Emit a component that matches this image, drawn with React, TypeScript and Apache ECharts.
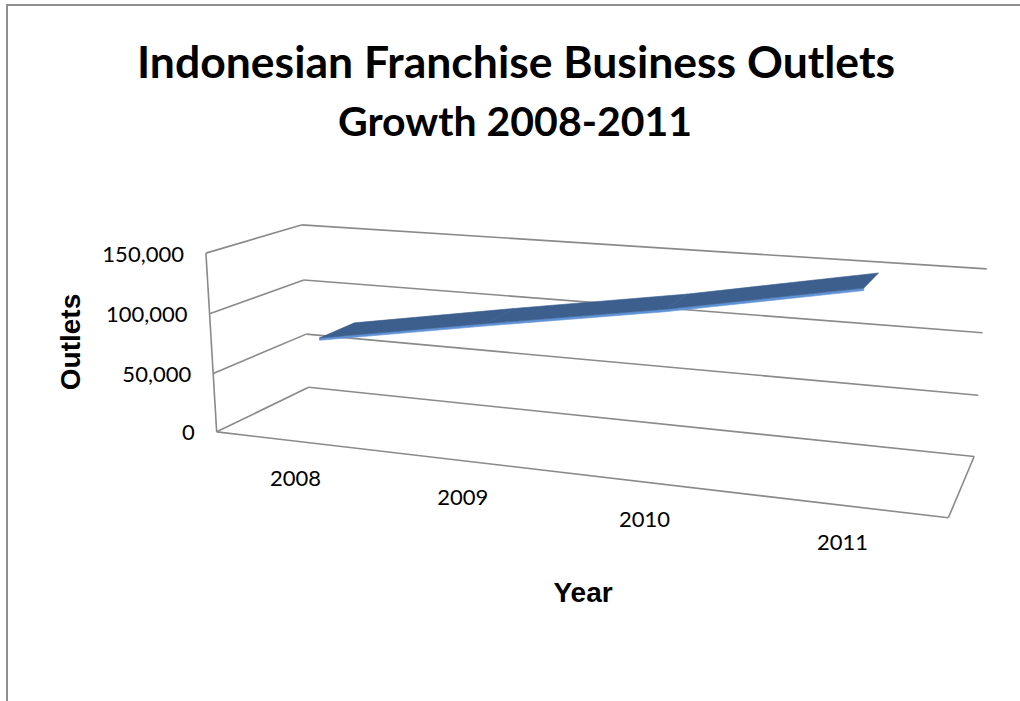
import React, { useEffect, useRef } from "react";
import * as echarts from "echarts";

// ---- data ----
const years = ["2008", "2009", "2010", "2011"];
const outlets = [76000, 100000, 123000, 150000];
const yTicks = [0, 50000, 100000, 150000];
const yMax = 150000;
const titleLines = ["Indonesian Franchise Business Outlets", "Growth 2008-2011"];
const yAxisName = "Outlets";
const xAxisName = "Year";

// ---- 3D box layout (u: category 0..1, v: value 0..1, w: depth 0 front .. 1 back) -> screen ----
const anchors: number[][] = [
  [0, 0, 0, 216.7, 433.3],
  [0, 1, 0, 205, 253.3],
  [0, 2 / 3, 0, 210.7, 314],
  [0, 1 / 3, 0, 213, 371.7],
  [0, 0, 1, 308.3, 387.3],
  [0, 1, 1, 301.7, 225],
  [0, 2 / 3, 1, 303.3, 280.7],
  [0, 1 / 3, 1, 306.7, 333.3],
  [1, 0, 1, 974, 456.7],
  [1, 1, 1, 986.7, 269],
  [1, 2 / 3, 1, 982.7, 332.7],
  [1, 1 / 3, 1, 978.3, 395],
  [1, 0, 0, 948.3, 517.7],
];

function fitCamera(pts: number[][]) {
  const n = 11;
  const M: number[][] = Array.from({ length: n }, () => new Array(n + 1).fill(0));
  const addRow = (r: number[], b: number) => {
    for (let i = 0; i < n; i++) {
      for (let j = 0; j < n; j++) M[i][j] += r[i] * r[j];
      M[i][n] += r[i] * b;
    }
  };
  for (const [u, v, w, X, Y] of pts) {
    const x = X / 1000, y = Y / 1000;
    addRow([u, v, w, 1, 0, 0, 0, 0, -x * u, -x * v, -x * w], x);
    addRow([0, 0, 0, 0, u, v, w, 1, -y * u, -y * v, -y * w], y);
  }
  for (let c = 0; c < n; c++) {
    let piv = c;
    for (let r = c + 1; r < n; r++) if (Math.abs(M[r][c]) > Math.abs(M[piv][c])) piv = r;
    [M[c], M[piv]] = [M[piv], M[c]];
    for (let r = 0; r < n; r++) {
      if (r === c) continue;
      const f = M[r][c] / M[c][c];
      for (let k = c; k <= n; k++) M[r][k] -= f * M[c][k];
    }
  }
  return M.map((row, i) => row[n] / row[i]);
}

const P = fitCamera(anchors);
function proj(u: number, v: number, w: number): [number, number] {
  const d = P[8] * u + P[9] * v + P[10] * w + 1;
  return [
    ((P[0] * u + P[1] * v + P[2] * w + P[3]) / d) * 1000,
    ((P[4] * u + P[5] * v + P[6] * w + P[7]) / d) * 1000,
  ];
}

const GRID = "#8a8a8a";
const RIB_FRONT = 0.3;
const RIB_BACK = 0.7;
const RIB_THICK = 0.013;

function toUV(api: any, cs: any, cat: number, val: number): [number, number] {
  const p = api.coord([cat, val]);
  return [(p[0] - cs.x) / cs.width, (cs.y + cs.height - p[1]) / cs.height];
}

export default function App() {
  const ref = useRef<HTMLDivElement>(null);
  useEffect(() => {
    if (!ref.current) return;
    const chart = echarts.init(ref.current, undefined, { renderer: "svg" });

    const line = (a: [number, number], b: [number, number]) => ({
      type: "line",
      shape: { x1: a[0], y1: a[1], x2: b[0], y2: b[1] },
      style: { stroke: GRID, lineWidth: 1.6 },
    });

    const wallsItem = (params: any, api: any) => {
      const cs = params.coordSys;
      const t = api.value(1);
      const [, v] = toUV(api, cs, 0, t);
      const children: any[] = [
        line(proj(0, v, 1), proj(1, v, 1)),
        line(proj(0, v, 0), proj(0, v, 1)),
      ];
      const lp = proj(0, v, 0);
      children.push({
        type: "text",
        x: lp[0] - 22,
        y: lp[1],
        style: {
          text: t.toLocaleString("en-US"),
          fill: "#000",
          font: "22px Lato",
          align: "right",
          verticalAlign: "middle",
        },
      });
      if (params.dataIndex === 0) {
        const [, vTop] = toUV(api, cs, 0, yTicks[yTicks.length - 1]);
        children.push(line(proj(0, v, 0), proj(1, v, 0)));
        children.push(line(proj(1, v, 0), proj(1, v, 1)));
        children.push(line(proj(0, v, 0), proj(0, vTop, 0)));
      }
      return { type: "group", children };
    };

    const ribbonItem = (params: any, api: any) => {
      const i = params.dataIndex;
      if (i >= outlets.length - 1) return { type: "group", children: [] };
      const cs = params.coordSys;
      const [u0, v0] = toUV(api, cs, i, api.value(1));
      const [u1, v1] = toUV(api, cs, i + 1, outlets[i + 1]);
      const top = [
        proj(u0, v0, RIB_FRONT),
        proj(u1, v1, RIB_FRONT),
        proj(u1, v1, RIB_BACK),
        proj(u0, v0, RIB_BACK),
      ];
      const front = [
        proj(u0, v0, RIB_FRONT),
        proj(u1, v1, RIB_FRONT),
        proj(u1, v1 - RIB_THICK, RIB_FRONT),
        proj(u0, v0 - RIB_THICK, RIB_FRONT),
      ];
      return {
        type: "group",
        children: [
          { type: "polygon", shape: { points: front }, style: { fill: "#5f93d6", stroke: "#5f93d6", lineWidth: 0.6 } },
          { type: "polygon", shape: { points: top }, style: { fill: "#3c5f8e", stroke: "#3c5f8e", lineWidth: 0.6 } },
        ],
      };
    };

    const catItem = (params: any, api: any) => {
      const cs = params.coordSys;
      const [u] = toUV(api, cs, params.dataIndex, 0);
      const p = proj(u, 0, 0);
      return {
        type: "text",
        x: p[0],
        y: p[1] + 36,
        style: {
          text: years[params.dataIndex],
          fill: "#000",
          font: "22px Lato",
          align: "center",
          verticalAlign: "middle",
        },
      };
    };

    chart.setOption({
      animation: false,
      grid: { left: 0, top: 0, right: 0, bottom: 0, show: false },
      xAxis: { type: "category", data: years, show: false, boundaryGap: true },
      yAxis: { type: "value", min: 0, max: yMax, interval: 50000, show: false },
      graphic: [
        {
          type: "rect",
          shape: { x: 7, y: 5, width: 1100, height: 800 },
          style: { fill: "none", stroke: "#8f8f8f", lineWidth: 2 },
          silent: true,
        },
        {
          type: "text",
          x: 516,
          y: 60,
          style: { text: titleLines[0], font: "bold 44.5px Lato", fill: "#000", align: "center", verticalAlign: "middle" },
        },
        {
          type: "text",
          x: 515,
          y: 120,
          style: { text: titleLines[1], font: "bold 41px Lato", fill: "#000", align: "center", verticalAlign: "middle" },
        },
        {
          type: "text",
          x: 70,
          y: 342,
          rotation: Math.PI / 2,
          style: { text: yAxisName, font: "bold 28px 'Liberation Sans', Arial", fill: "#000", align: "center", verticalAlign: "middle" },
        },
        {
          type: "text",
          x: 583,
          y: 592,
          style: { text: xAxisName, font: "bold 28px 'Liberation Sans', Arial", fill: "#000", align: "center", verticalAlign: "middle" },
        },
      ],
      series: [
        {
          type: "custom",
          clip: false,
          renderItem: wallsItem,
          data: yTicks.map((t) => [0, t]),
          encode: { x: 0, y: 1 },
          z: 1,
        },
        {
          type: "custom",
          clip: false,
          renderItem: ribbonItem,
          data: outlets.map((v, i) => [i, v]),
          encode: { x: 0, y: 1 },
          z: 3,
        },
        {
          type: "custom",
          clip: false,
          renderItem: catItem,
          data: years.map((y, i) => [i, 0]),
          encode: { x: 0, y: 1 },
          z: 2,
        },
      ],
    });
    return () => chart.dispose();
  }, []);
  return (
    <div
      ref={ref}
      style={{ position: "fixed", left: 0, top: 0, width: 1020, height: 701, background: "#fff" }}
    />
  );
}
